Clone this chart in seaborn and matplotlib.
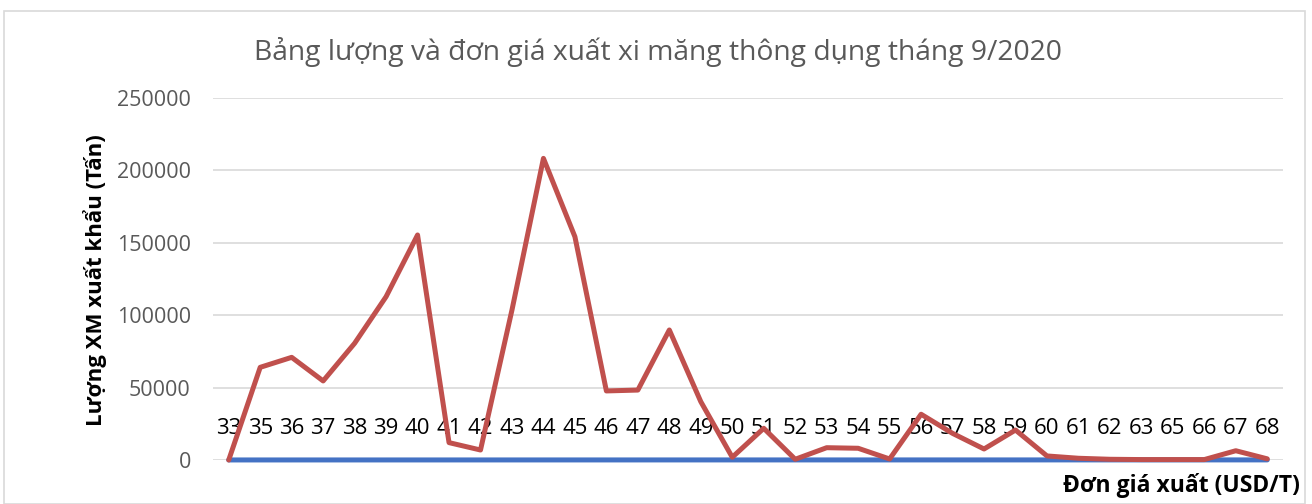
import matplotlib
matplotlib.use("Agg")
import matplotlib.pyplot as plt
import seaborn as sns
import pandas as pd
import numpy as np

prices = [33, 35, 36, 37, 38, 39, 40, 41, 42, 43, 44, 45, 46, 47, 48, 49, 50, 51,
          52, 53, 54, 55, 56, 57, 58, 59, 60, 61, 62, 63, 65, 66, 67, 68]
volumes = [0, 64000, 70900, 54600, 80600, 112800, 155400, 12000, 6900, 103600,
           208300, 154200, 47700, 48300, 89800, 40300, 1900, 21900, 500, 8500,
           8100, 700, 31600, 18400, 7600, 20700, 2800, 1200, 500, 300, 300, 300,
           6400, 800]
y_ticks = [0, 50000, 100000, 150000, 200000, 250000]

title = "Bảng lượng và đơn giá xuất xi măng thông dụng tháng 9/2020"
x_label = "Đơn giá xuất (USD/T)"
y_label = "Lượng XM xuất khẩu (Tấn)"

sns.set_theme(style="white")
plt.rcParams['font.family'] = ['Open Sans', 'DejaVu Sans']

df = pd.DataFrame({"idx": np.arange(len(prices)), "price": prices, "volume": volumes})

fig = plt.figure(figsize=(13.12, 5.04), dpi=100)
ax = fig.add_axes([213/1312, 1 - 460/504, (1283-213)/1312, (460-98)/504])

sns.lineplot(data=df, x="idx", y="price", ax=ax, color="#4472C4", linewidth=3.6)
sns.lineplot(data=df, x="idx", y="volume", ax=ax, color="#C0504D", linewidth=3.6)
for ln in ax.get_lines():
    ln.set_clip_on(False)

ax.set_xlim(-0.5, len(prices) - 0.5)
ax.set_ylim(0, 250000)
ax.set_yticks(y_ticks)
ax.set_yticklabels([str(v) for v in y_ticks], color="#595959", fontsize=15.5)
ax.set_xticks(np.arange(len(prices)))
ax.set_xticklabels([str(p) for p in prices], fontsize=16, color="black")
ax.tick_params(axis='x', pad=-30, length=0)
ax.tick_params(axis='y', pad=16, length=0)
ax.grid(axis='y', color="#D9D9D9", linewidth=1.2)
ax.set_axisbelow(True)
for s in ax.spines.values():
    s.set_visible(False)
ax.set_xlabel("")
ax.set_ylabel("")

fig.text(658/1312, 1 - 52/504, title, ha="center", va="center", fontsize=20.3, color="#595959")
fig.text(95/1312, 1 - 280/504, y_label, ha="center", va="center", rotation=90,
         fontsize=16, fontweight="bold", color="black")
fig.text(1300/1312, 1 - 485/504, x_label, ha="right", va="center",
         fontsize=16.5, fontweight="bold", color="black")

fig.patches.append(plt.Rectangle((4/1312, 0), (1305-4)/1312, 1 - 11/504 - 0.0,
                                 transform=fig.transFigure, fill=False,
                                 edgecolor="#D9D9D9", linewidth=1.2))

fig.savefig("out.png", dpi=100, facecolor="white")
